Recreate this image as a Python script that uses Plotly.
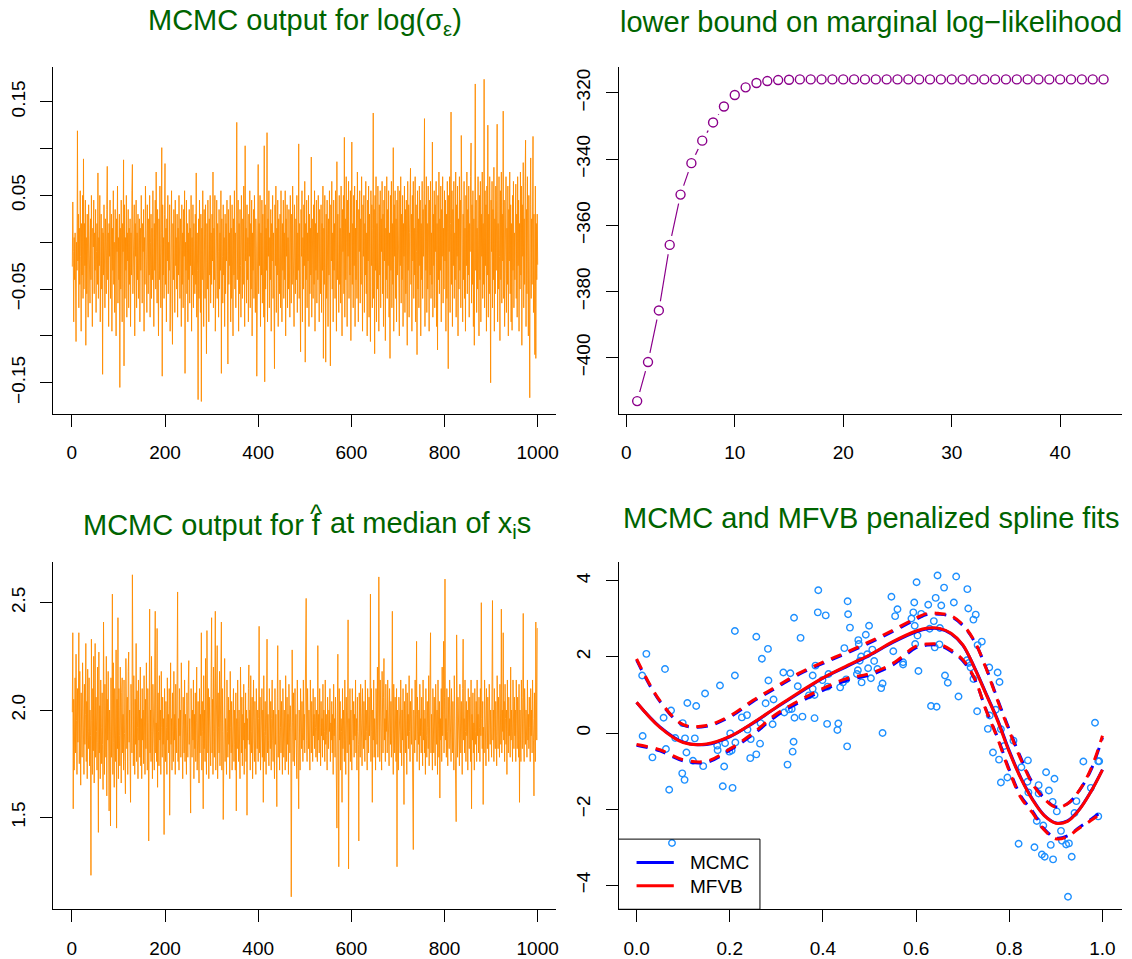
import plotly.graph_objects as go

# ---------------- data ----------------
# Panel 1: MCMC trace of log(sigma_eps), values in units of 0.001
sig_trace_milli = [
 -26, 43, -10, -85, 5, -40, 10, -60, -106, 0, -30, 119, -20, 30, -70, 15, -45, 55, -15, -95, 20, -35, 50, -60, 89,
 -50, 20, -25, 45, -110, 5, -55, 30, -10, -80, 40, -20, 10, -65, 25, -40, 50, -15, -90, 15, -5, 45, -55, 10, -30,
 35, -75, -10, 20, -45, 74, -60, 5, -25, 50, -85, 0, 30, -50, 15, -141, 10, -35, 40, -20, -70, 25, -5, -55, 35,
 81, -40, 10, -90, 20, -15, 45, -60, -5, 30, -95, 15, -30, 55, -45, 0, -75, 35, -20, -100, 25, -10, 60, -65, 5,
 -40, 30, -155, 15, -50, 45, -25, -85, 20, -10, 88, -132, 40, -60, 5, -30, 50, -80, 10, -20, 35, -70, 15, -45, 25,
 -90, 10, -35, 55, 83, -55, 0, -25, 40, -100, 20, -15, 45, -70, 10, -40, 30, -60, -5, 25, -85, 15, -30, 50, -20,
 -65, 20, -10, 35, -95, 5, -45, 60, -25, 10, -75, 40, -15, -55, 25, -35, 50, -80, 0, 30, -60, 15, -40, 55, -10,
 -90, 20, -30, 45, -50, 75, -20, -65, 35, -5, -100, 25, -40, 60, -15, -70, 10, 101, -143, 40, -35, 5, -60, 30, 84,
 -45, 15, -85, 25, -20, 50, -55, 0, -30, 40, -95, 10, -15, 55, -65, -109, 20, -40, 35, -10, -75, 45, -25, 5, -50,
 30, -80, 15, -35, 50, -20, -60, 25, -5, -90, 40, -45, 10, -70, 35, -15, 55, -140, 0, -30, 45, -55, 20, -85, 10,
 -40, 35, -65, 15, -25, 50, -95, 5, -35, 40, -70, 20, -10, -55, 30, -45, 74, -80, 10, -30, -168, 25, -60, 45, -15,
 -75, 30, -170, 15, -40, 55, -20, -90, 35, -5, -60, 40, -30, -119, 20, -50, 45, -10, -85, 25, -35, 50, -65, 10, -45,
 30, -20, 75, -70, 15, -40, 50, -95, 0, -25, 45, -60, 20, -10, -80, 35, -50, 10, -30, 55, -140, 25, -15, -65, 40,
 -35, 5, -90, 30, -55, 20, -20, 45, -75, -130, 35, -45, 10, -25, 50, -85, 15, -60, 40, -10, -100, 25, -35, 55, -50,
 10, -70, 30, 128, -40, -15, 45, -95, 20, -55, 35, -25, -80, 50, -10, -60, 25, -45, 60, -30, -90, 103, -20, 15, -65,
 40, -40, 5, -85, 30, -15, 55, -70, 20, -50, 45, -100, 10, -30, 35, -60, 50, -20, -75, 25, -5, -143, 15, -40, 83,
 -55, 20, -25, 50, -90, 10, -35, 45, -65, 30, -10, -80, 103, -149, 40, -50, 15, -30, 117, -85, 25, -15, 55, -70, 5,
 -40, 35, -95, 20, -20, 50, -60, 10, -45, -135, 40, -25, 60, -75, 15, -35, 45, -90, 25, -10, -55, 30, -70, 55, -20,
 -85, 20, -30, 45, -60, 10, -40, 55, -100, 25, -15, 40, -70, 5, -50, 35, -25, -80, 50, -10, -65, 30, -45, 60, -35,
 15, -90, 40, -20, -55, 25, -40, 50, -75, 10, -30, 105, -60, 20, -45, -117, 35, -15, 55, -85, 5, -50, 40, -25, 65,
 -128, 20, -40, 45, -70, 10, -20, 50, -90, 30, -55, 15, -35, 91, -80, 25, -10, -60, 40, -45, 55, -95, 20, -30, 45,
 -65, 10, -40, 50, -20, -85, 35, -5, -55, 40, -75, 20, -30, 60, -124, 15, -45, 50, -15, -128, 30, -60, 45, -25, -90,
 25, -35, 55, -70, -132, 40, -20, 65, -50, 10, -85, 45, -30, 20, -60, 55, -10, -95, 86, -40, 30, -20, -75, 50, -45,
 15, -65, 60, -30, -100, 35, -10, 50, -55, 112, -80, 25, -40, 70, -20, -90, 45, -15, 65, -60, 10, -35, 55, -105, 30,
 107, -45, 20, -70, 50, -25, 60, -90, 15, -40, 45, -60, 75, -20, -85, 35, -10, 55, -65, 25, -45, 70, -30, -95, 40,
 -15, 50, -75, 20, -35, 65, -55, 10, -100, 45, -20, 60, -80, 30, -45, -106, 55, -25, 40, -70, 15, 138, -60, 35, -119,
 50, -30, 70, -85, 20, -50, 60, -15, -95, 40, -35, 55, -70, 25, -10, 65, -55, 30, -90, 45, -20, 60, -105, 15, -40,
 70, -60, 35, -25, 55, -80, 10, -124, 50, -30, 65, -70, 20, -45, 101, -95, 40, -15, 55, -60, 25, -85, 45, -35, 60,
 -50, 15, -100, 55, -25, 70, -65, 30, -40, 50, -90, 20, -15, 60, -75, 35, -55, 45, -20, -110, 65, -30, 40, -80, 10,
 55, 79, -45, 30, -95, 50, -20, 65, -60, 15, -35, 70, -85, 40, -10, -120, 55, -50, 25, -70, 60, -25, 45, -100, 20,
 -40, 65, -60, 35, -15, 55, 132, -90, 40, -30, 70, -75, 20, -50, 60, -20, -95, 45, -35, 65, -60, 10, -45, 107, -80,
 30, -25, 55, -70, 40, -10, 65, -90, 20, -115, 50, -40, 75, -55, 25, -30, 60, -85, 35, -15, 70, -65, 15, -50, 55,
 -20, 45, -95, 30, -60, 65, -35, -135, 50, -10, 70, -75, 20, 139, -45, 55, -90, 35, -25, 65, -60, 10, -40, 75, -80,
 40, -15, 60, -100, 25, -50, 70, -30, 45, -70, 114, -20, 55, -85, 30, -40, 65, -60, 15, -95, 50, -25, 75, -55, 35,
 -35, 60, -80, 20, -10, 70, 106, -65, 40, -45, 55, -90, 25, -110, 65, 169, -30, 45, -75, 15, -50, 70, -20, -100, 50,
 -40, 65, -85, 30, -15, 75, -60, 20, -45, 174, -70, 55, -25, 40, -95, 60, -35, 125, -80, 30, -55, 70, -20, -150, 45,
 -10, 65, -70, 35, -40, 80, -95, 25, -55, 60, -30, 45, 126, -85, 20, -50, 70, -15, -105, 55, -40, 75, -65, 30, -20,
 140, -60, 45, -90, 25, -35, 70, -75, 15, -45, 60, -100, 35, -20, 75, -55, 40, -85, 20, -94, 50, -30, 65, -70, 10,
 -40, 55, 62, -60, 30, -80, 70, -25, 45, -95, 20, -50, 75, -35, 60, -110, 40, -15, 85, -70, 25, -45, 65, 109, -90,
 35, -55, 70, -20, -100, 50, -30, -166, 40, 90, -60, 25, -45, 80, 113, -75, 30, -50, -120, 60, -124, 20, -40, 30, -24,
]

# Panel 2: lower bound on marginal log-likelihood per iteration
lb_values = [-413.1, -401.3, -385.7, -365.9, -350.7, -341.2, -334.4, -328.9, -324.1, -320.6,
             -318.3, -317.0, -316.4, -316.1, -316.0, -315.9, -315.9, -315.9, -315.9, -315.9,
             -315.9, -315.9, -315.9, -315.9, -315.9, -315.9, -315.9, -315.9, -315.9, -315.9,
             -315.9, -315.9, -315.9, -315.9, -315.9, -315.9, -315.9, -315.9, -315.9, -315.9,
             -315.9, -315.9, -315.9, -315.9]

# Panel 3: MCMC trace of f-hat at median of x_i, values in units of 0.01
fhat_trace_centi = [
 199, 236, 154, 205, 172, 188, 215, 180, 226, 195, 170, 210, 185, 200, 236, 175, 218, 190, 165, 208, 192, 178, 222, 186, 205,
 170, 212, 184, 198, 231, 176, 204, 168, 219, 190, 182, 215, 174, 200, 188, 123, 233, 195, 170, 210, 181, 225, 166, 198, 231,
 178, 206, 190, 172, 220, 185, 143, 227, 180, 202, 168, 214, 192, 175, 208, 184, 163, 241, 188, 170, 212, 196, 178, 225, 160,
 205, 186, 218, 172, 153, 200, 190, 146, 215, 178, 196, 254, 170, 222, 185, 164, 210, 192, 176, 228, 145, 205, 182, 243, 168,
 210, 188, 174, 220, 195, 166, 208, 215, 180, 198, 172, 214, 189, 176, 161, 224, 192, 182, 206, 170, 218, 227, 185, 200, 176,
 157, 212, 194, 180, 263, 188, 174, 216, 196, 170, 205, 184, 231, 176, 209, 192, 168, 214, 186, 200, 178, 220, 174, 196, 168,
 210, 186, 200, 175, 216, 190, 170, 205, 182, 222, 188, 172, 210, 194, 139, 215, 247, 180, 200, 176, 225, 190, 168, 212, 184,
 198, 172, 220, 246, 180, 194, 176, 238, 164, 208, 190, 174, 216, 186, 200, 170, 218, 192, 178, 206, 184, 196, 142, 210, 188,
 176, 204, 192, 170, 215, 186, 198, 180, 210, 151, 200, 222, 184, 196, 172, 208, 190, 176, 218, 186, 198, 170, 212, 192, 180,
 205, 255, 176, 196, 172, 210, 188, 200, 178, 222, 186, 194, 168, 206, 192, 180, 214, 176, 198, 188, 170, 208, 190, 178, 212,
 223, 184, 196, 174, 152, 210, 190, 178, 200, 186, 214, 168, 198, 182, 208, 176, 194, 220, 172, 186, 204, 190, 166, 210, 180,
 198, 188, 236, 172, 204, 190, 154, 216, 182, 200, 176, 224, 186, 170, 237, 192, 180, 210, 168, 206, 188, 196, 174, 215, 243,
 180, 205, 170, 220, 190, 178, 212, 246, 172, 200, 186, 230, 168, 208, 192, 180, 218, 174, 196, 186, 241, 172, 210, 190, 149,
 200, 182, 224, 176, 196, 188, 170, 214, 190, 178, 206, 184, 200, 168, 218, 192, 180, 204, 172, 196, 186, 210, 176, 200, 184,
 172, 208, 153, 196, 182, 214, 190, 176, 200, 186, 168, 220, 192, 180, 206, 174, 198, 186, 212, 170, 194, 182, 208, 176, 200,
 151, 196, 186, 210, 221, 184, 200, 172, 216, 190, 180, 206, 168, 198, 214, 186, 176, 204, 192, 170, 210, 188, 182, 200, 176,
 196, 239, 180, 206, 172, 194, 186, 210, 178, 200, 157, 216, 190, 176, 204, 188, 170, 212, 233, 180, 198, 186, 174, 210, 192,
 182, 204, 172, 196, 214, 186, 176, 200, 190, 168, 210, 184, 198, 180, 155, 206, 230, 178, 200, 188, 172, 214, 192, 180, 204,
 186, 170, 210, 194, 178, 200, 188, 172, 216, 190, 176, 206, 184, 198, 170, 212, 188, 180, 202, 192, 113, 186, 228, 194, 176,
 208, 190, 174, 210, 186, 198, 180, 168, 214, 192, 178, 154, 200, 186, 172, 210, 194, 182, 204, 190, 176, 214, 186, 198, 180,
 206, 190, 252, 186, 176, 210, 194, 182, 200, 188, 172, 214, 190, 180, 204, 194, 176, 210, 188, 198, 182, 206, 192, 178, 200,
 190, 176, 230, 186, 198, 180, 210, 192, 174, 204, 188, 196, 178, 212, 186, 200, 190, 176, 214, 184, 198, 188, 172, 206, 194,
 182, 200, 190, 210, 176, 194, 186, 204, 180, 198, 170, 212, 188, 196, 178, 206, 190, 184, 145, 200, 226, 180, 127, 210, 186,
 204, 172, 196, 190, 157, 210, 182, 200, 188, 176, 214, 194, 170, 206, 188, 180, 200, 242, 126, 196, 184, 210, 176, 200, 190,
 172, 210, 194, 186, 204, 178, 198, 188, 214, 180, 196, 172, 206, 190, 184, 139, 208, 192, 178, 212, 188, 200, 174, 210, 190,
 182, 204, 196, 176, 214, 186, 200, 190, 172, 210, 194, 180, 206, 188, 198, 254, 176, 210, 190, 157, 200, 186, 214, 178, 196,
 188, 172, 210, 194, 184, 220, 178, 200, 262, 190, 176, 214, 186, 200, 172, 218, 192, 180, 206, 224, 186, 196, 176, 212, 190,
 200, 180, 214, 188, 196, 174, 210, 192, 184, 204, 178, 200, 246, 186, 170, 212, 194, 180, 206, 188, 176, 210, 127, 200, 190,
 172, 206, 188, 196, 180, 214, 190, 174, 200, 186, 210, 178, 156, 204, 190, 180, 212, 194, 170, 208, 188, 198, 182, 216, 190,
 176, 204, 196, 184, 210, 188, 172, 135, 200, 192, 180, 214, 186, 198, 232, 176, 206, 190, 184, 200, 172, 212, 188, 196, 180,
 206, 190, 174, 214, 186, 200, 180, 196, 170, 210, 188, 178, 204, 192, 182, 216, 174, 200, 190, 236, 180, 198, 186, 172, 210,
 192, 180, 206, 188, 174, 212, 196, 184, 200, 170, 214, 190, 178, 204, 159, 196, 186, 210, 176, 220, 188, 198, 232, 180, 206,
 261, 186, 196, 178, 210, 190, 174, 206, 192, 182, 214, 188, 200, 176, 210, 194, 180, 204, 186, 172, 216, 190, 198, 180, 148,
 235, 190, 178, 206, 186, 198, 174, 212, 190, 180, 204, 192, 170, 210, 233, 186, 196, 180, 214, 190, 176, 204, 188, 200, 172,
 210, 192, 182, 206, 188, 176, 214, 154, 198, 186, 208, 180, 194, 172, 210, 190, 184, 204, 176, 214, 188, 198, 180, 206, 192,
 176, 210, 188, 250, 196, 182, 204, 156, 192, 180, 214, 186, 200, 174, 210, 194, 182, 206, 188, 176, 212, 196, 184, 200, 190,
 178, 214, 251, 186, 200, 176, 210, 192, 182, 204, 188, 174, 216, 196, 182, 206, 190, 178, 212, 194, 184, 247, 180, 200, 190,
 236, 186, 204, 176, 212, 196, 184, 200, 170, 214, 190, 180, 206, 188, 196, 178, 220, 186, 200, 190, 176, 214, 192, 182, 206,
 188, 200, 176, 214, 190, 182, 206, 196, 178, 212, 157, 200, 188, 176, 214, 194, 182, 206, 245, 186, 176, 210, 196, 184, 200,
 190, 178, 214, 186, 198, 182, 206, 192, 176, 210, 188, 200, 180, 214, 196, 186, 160, 208, 190, 176, 241, 204, 186, 238, 238,
]

# Panel 4: data points
pts_x = [0.021, 0.012, 0.013, 0.034, 0.058, 0.061, 0.063, 0.070, 0.074, 0.076,
         0.083, 0.099, 0.098, 0.103, 0.104, 0.107, 0.109, 0.121, 0.125, 0.128,
         0.143, 0.147, 0.173, 0.174, 0.179, 0.185, 0.188, 0.190, 0.199, 0.201,
         0.204, 0.206, 0.211, 0.211, 0.212, 0.226, 0.237, 0.238, 0.244, 0.245,
         0.257, 0.257, 0.265, 0.266, 0.269, 0.277, 0.282, 0.283, 0.292, 0.294,
         0.315, 0.317, 0.324, 0.327, 0.330, 0.333, 0.335, 0.337, 0.338, 0.339,
         0.346, 0.352, 0.356, 0.370, 0.378, 0.378, 0.382, 0.382, 0.384, 0.389,
         0.390, 0.399, 0.406, 0.409, 0.410, 0.412, 0.431, 0.433, 0.437, 0.443,
         0.446, 0.450, 0.452, 0.453, 0.454, 0.458, 0.473, 0.475, 0.476, 0.477,
         0.479, 0.482, 0.483, 0.492, 0.495, 0.497, 0.499, 0.503, 0.506, 0.510,
         0.517, 0.525, 0.528, 0.528, 0.547, 0.551, 0.555, 0.560, 0.572, 0.572,
         0.590, 0.594, 0.596, 0.597, 0.598, 0.601, 0.603, 0.605, 0.611, 0.626,
         0.629, 0.632, 0.638, 0.640, 0.642, 0.644, 0.646, 0.650, 0.651, 0.654,
         0.660, 0.662, 0.668, 0.681, 0.686, 0.691, 0.709, 0.710, 0.712, 0.713,
         0.717, 0.723, 0.723, 0.728, 0.731, 0.732, 0.741, 0.754, 0.757, 0.758,
         0.765, 0.771, 0.775, 0.778, 0.779, 0.782, 0.782, 0.789, 0.796, 0.809,
         0.820, 0.826, 0.839, 0.840, 0.841, 0.854, 0.859, 0.863, 0.863, 0.870,
         0.873, 0.876, 0.879, 0.885, 0.889, 0.893, 0.894, 0.897, 0.902, 0.911,
         0.913, 0.922, 0.926, 0.928, 0.934, 0.940, 0.944, 0.959, 0.975, 0.984,
         0.991, 0.991, 0.993]
pts_y = [2.08, 1.51, -0.08, -0.64, 0.40, 1.68, -0.42, -1.49, 0.59, -2.89,
         -0.13, 0.26, -1.06, -1.23, -0.14, -0.51, 0.79, -0.73, -0.14, 0.71,
         -0.87, 1.04, -0.33, -0.45, 1.25, -1.40, -0.88, -0.27, -0.49, -0.01,
         -0.46, -1.44, 1.51, 2.68, -0.25, 0.41, 0.47, 0.09, -0.66, -0.16,
         2.53, -0.56, -0.28, 0.26, 1.95, 0.78, 2.21, 1.38, 0.23, 0.88,
         1.59, 0.54, -0.83, 0.62, 1.57, 0.63, -0.49, -0.23, 3.03, 0.40,
         1.23, 2.50, 0.43, 0.99, 1.51, 1.16, 1.00, 0.39, 1.77, 3.17,
         3.75, 1.39, 3.09, 0.24, 1.22, 1.55, 0.08, 0.25, 1.20, 1.33,
         2.23, 1.41, -0.35, 3.46, 3.12, 2.77, 1.55, 1.65, 2.44, 2.34,
         1.90, 2.01, 1.33, 2.58, 2.07, 1.70, 2.82, 1.44, 2.19, 1.89,
         1.68, 1.18, 1.30, 0.00, 3.58, 2.15, 3.07, 3.25, 1.86, 1.80,
         3.01, 3.17, 3.43, 2.82, 2.34, 3.96, 2.56, 1.63, 3.13, 3.37,
         2.74, 0.71, 2.94, 2.25, 3.55, 0.69, 4.14, 2.33, 2.76, 3.35,
         3.82, 1.51, 1.32, 3.43, 4.11, 0.96, 1.91, 3.78, 3.27, 1.84,
         1.72, 2.98, 1.42, 3.11, 0.57, 2.31, 2.40, 0.11, 1.72, 0.46,
         -0.51, 0.61, 1.59, -0.70, 1.34, -1.30, 0.10, -0.34, -1.17, -0.20,
         -2.91, -0.90, -1.28, -0.72, -1.56, -3.00, -2.31, -1.59, -1.37, -3.19,
         -2.43, -3.25, -1.03, -1.51, -2.94, -1.81, -3.32, -1.20, -2.06, -2.57,
         -2.83, -2.93, -4.30, -2.90, -3.25, -2.10, -1.79, -0.75, -1.44, 0.27,
         -0.74, -2.19, -0.74]

# Panel 4: fitted curves on a grid
fit_x = [0.0, 0.05, 0.1, 0.15, 0.2, 0.25, 0.3, 0.35, 0.4, 0.45, 0.5, 0.55, 0.6,
         0.625, 0.65, 0.675, 0.7, 0.725, 0.75, 0.775, 0.8, 0.825, 0.85, 0.875,
         0.9, 0.925, 0.95, 0.975, 1.0]
mfvb_mean = [0.81, 0.15, -0.25, -0.29, -0.09, 0.27, 0.68, 1.08, 1.45, 1.76, 2.05, 2.40, 2.68,
             2.76, 2.75, 2.62, 2.32, 1.72, 1.02, 0.32, -0.50, -1.20, -1.76, -2.17,
             -2.37, -2.32, -2.02, -1.55, -0.97]
mfvb_upper = [1.95, 0.85, 0.22, 0.20, 0.45, 0.86, 1.22, 1.58, 1.86, 2.12, 2.40, 2.70, 3.02,
              3.15, 3.14, 3.08, 2.85, 2.42, 1.70, 0.85, 0.05, -0.70, -1.34, -1.73,
              -1.95, -1.86, -1.51, -0.95, -0.07]
mfvb_lower = [-0.30, -0.44, -0.70, -0.74, -0.42, 0.00, 0.50, 0.86, 1.17, 1.43, 1.56, 1.83, 2.28,
              2.34, 2.33, 2.18, 1.93, 1.45, 0.60, -0.15, -1.00, -1.70, -2.10, -2.55,
              -2.78, -2.72, -2.50, -2.30, -2.08]
mcmc_mean = [0.80, 0.16, -0.24, -0.30, -0.10, 0.26, 0.67, 1.06, 1.44, 1.74, 2.04, 2.38, 2.66,
             2.74, 2.74, 2.61, 2.31, 1.73, 1.04, 0.35, -0.47, -1.18, -1.74, -2.16,
             -2.36, -2.31, -2.01, -1.54, -0.96]
mcmc_upper = [1.92, 0.83, 0.21, 0.18, 0.42, 0.83, 1.19, 1.55, 1.83, 2.09, 2.37, 2.67, 2.99,
              3.12, 3.12, 3.06, 2.83, 2.41, 1.72, 0.88, 0.09, -0.66, -1.31, -1.71,
              -1.94, -1.86, -1.52, -0.98, -0.12]
mcmc_lower = [-0.32, -0.47, -0.73, -0.77, -0.45, -0.04, 0.45, 0.81, 1.12, 1.38, 1.52, 1.79, 2.24,
              2.31, 2.30, 2.15, 1.90, 1.43, 0.62, -0.12, -0.96, -1.66, -2.06, -2.52,
              -2.76, -2.70, -2.48, -2.27, -2.05]

titles = ["MCMC output for log(σ<sub>ε</sub>)",
          "lower bound on marginal log−likelihood",
          "MCMC and MFVB penalized spline fits"]
legend_labels = ["MCMC", "MFVB"]

# ---------------- layout helpers ----------------
W, H = 1132, 959
def px(x):
    return x / W
def py(y):
    return 1 - y / H

FONT = "Liberation Sans, Arial, Helvetica, sans-serif"
TITLE_COL = "#006400"
ORANGE = "#FF8C00"
PURPLE = "#8B008B"
BLUE_PTS = "#1E90FF"

sig_vals = [v / 1000 for v in sig_trace_milli]
fhat_vals = [v / 100 for v in fhat_trace_centi]
iters1 = list(range(1, len(sig_vals) + 1))
iters3 = list(range(1, len(fhat_vals) + 1))
iters2 = list(range(1, len(lb_values) + 1))

fig = go.Figure()

# Panel 1
fig.add_trace(go.Scatter(x=iters1, y=sig_vals, mode="lines",
                         line=dict(color=ORANGE, width=0.9), xaxis="x", yaxis="y",
                         showlegend=False, hoverinfo="skip"))
# Panel 2 (type "b": line with gaps at points)
fig.add_trace(go.Scatter(x=iters2, y=lb_values, mode="lines",
                         line=dict(color=PURPLE, width=1.2), xaxis="x2", yaxis="y2",
                         showlegend=False, hoverinfo="skip"))
fig.add_trace(go.Scatter(x=iters2, y=lb_values, mode="markers",
                         marker=dict(color="white", size=19, line=dict(width=0)),
                         xaxis="x2", yaxis="y2", showlegend=False, hoverinfo="skip"))
fig.add_trace(go.Scatter(x=iters2, y=lb_values, mode="markers",
                         marker=dict(symbol="circle-open", color=PURPLE, size=9,
                                     line=dict(width=1.4, color=PURPLE)),
                         xaxis="x2", yaxis="y2", showlegend=False, hoverinfo="skip"))
# Panel 3
fig.add_trace(go.Scatter(x=iters3, y=fhat_vals, mode="lines",
                         line=dict(color=ORANGE, width=0.9), xaxis="x3", yaxis="y3",
                         showlegend=False, hoverinfo="skip"))
# Panel 4
fig.add_trace(go.Scatter(x=pts_x, y=pts_y, mode="markers",
                         marker=dict(symbol="circle-open", color=BLUE_PTS, size=6.5,
                                     line=dict(width=1.4, color=BLUE_PTS)),
                         xaxis="x4", yaxis="y4", showlegend=False, hoverinfo="skip"))
DASH = "11px,8px"
for ys, col, dash in [(mcmc_upper, "#0000FF", DASH), (mcmc_lower, "#0000FF", DASH),
                      (mcmc_mean, "#0000FF", "solid"),
                      (mfvb_upper, "#FF0000", DASH), (mfvb_lower, "#FF0000", DASH),
                      (mfvb_mean, "#FF0000", "solid")]:
    fig.add_trace(go.Scatter(x=fit_x, y=ys, mode="lines",
                             line=dict(color=col, width=3, dash=dash, shape="spline"),
                             xaxis="x4", yaxis="y4", showlegend=False, hoverinfo="skip"))

axis_common = dict(showline=True, linecolor="black", linewidth=1, mirror=False,
                   ticks="outside", ticklen=12, tickwidth=1, tickcolor="black",
                   showgrid=False, zeroline=False,
                   tickfont=dict(family=FONT, size=19, color="black"))
XSTAND = 10
YSTAND = 8

TOP = (66.7, 414.0)
BOT = (562.7, 910.2)
LEFT = (53.5, 557.3)
RIGHT = (619.6, 1124.2)

fig.update_layout(
    width=W, height=H, margin=dict(l=0, r=0, t=0, b=0),
    paper_bgcolor="white", plot_bgcolor="white",
    font=dict(family=FONT),
    showlegend=False,
    xaxis=dict(domain=[px(LEFT[0]), px(LEFT[1])], range=[-39.6, 1040], anchor="y",
               tickvals=[0, 200, 400, 600, 800, 1000], ticklabelstandoff=XSTAND, **axis_common),
    yaxis=dict(domain=[py(TOP[1]), py(TOP[0])], range=[-0.1829, 0.1875], anchor="x",
               tickvals=[-0.15, -0.05, 0.05, 0.15],
               ticktext=["−0.15", "−0.05", "0.05", "0.15"],
               minor=dict(tickvals=[-0.10, 0, 0.10], ticklen=12, tickwidth=1,
                          tickcolor="black", ticks="outside", showgrid=False),
               tickangle=-90, ticklabelstandoff=YSTAND, **axis_common),
    xaxis2=dict(domain=[px(RIGHT[0]), px(RIGHT[1])], range=[-0.72, 45.72], anchor="y2",
                tickvals=[0, 10, 20, 30, 40], ticklabelstandoff=XSTAND, **axis_common),
    yaxis2=dict(domain=[py(TOP[1]), py(TOP[0])], range=[-416.86, -312.04], anchor="x2",
                tickvals=[-400, -380, -360, -340, -320],
                ticktext=["−400", "−380", "−360", "−340", "−320"],
                tickangle=-90, ticklabelstandoff=YSTAND, **axis_common),
    xaxis3=dict(domain=[px(LEFT[0]), px(LEFT[1])], range=[-39.6, 1040], anchor="y3",
                tickvals=[0, 200, 400, 600, 800, 1000], ticklabelstandoff=XSTAND, **axis_common),
    yaxis3=dict(domain=[py(BOT[1]), py(BOT[0])], range=[1.072, 2.689], anchor="x3",
                tickvals=[1.5, 2.0, 2.5], ticktext=["1.5", "2.0", "2.5"],
                tickangle=-90, ticklabelstandoff=YSTAND, **axis_common),
    xaxis4=dict(domain=[px(RIGHT[0]), px(RIGHT[1])], range=[-0.0388, 1.0424], anchor="y4",
                tickvals=[0, 0.2, 0.4, 0.6, 0.8, 1.0],
                ticktext=["0.0", "0.2", "0.4", "0.6", "0.8", "1.0"],
                ticklabelstandoff=XSTAND, **axis_common),
    yaxis4=dict(domain=[py(BOT[1]), py(BOT[0])], range=[-4.63, 4.49], anchor="x4",
                tickvals=[-4, -2, 0, 2, 4], ticktext=["−4", "−2", "0", "2", "4"],
                tickangle=-90, ticklabelstandoff=YSTAND, **axis_common),
)

tfont = dict(family=FONT, size=29, color=TITLE_COL)
ann = [
    dict(text=titles[0], x=px(305.4), y=py(22.2), xanchor="center", yanchor="middle"),
    dict(text=titles[1], x=px(873.0), y=py(22.2), xanchor="center", yanchor="middle"),
    dict(text="MCMC output for f", x=px(321.5), y=py(525.2), xanchor="right", yanchor="middle"),
    dict(text="at median of x<sub>i</sub>s", x=px(331.0), y=py(525.2), xanchor="left", yanchor="middle"),
    dict(text=titles[2], x=px(873.0), y=py(518.8), xanchor="center", yanchor="middle"),
]
annotations = []
for a in ann:
    a.update(xref="paper", yref="paper", showarrow=False, font=tfont, borderpad=0, borderwidth=0)
    annotations.append(a)
annotations.append(dict(text="^", x=px(316.6), y=py(514.6), xref="paper", yref="paper",
                        xanchor="center", yanchor="middle", showarrow=False,
                        font=dict(family=FONT, size=26, color=TITLE_COL), borderpad=0, borderwidth=0))

# manual legend (bottom-left of panel 4)
leg_rows = [(863.3, "#0000FF", legend_labels[0]), (886.7, "#FF0000", legend_labels[1])]
shapes = [dict(type="rect", xref="paper", yref="paper", x0=px(619.6), x1=px(761.3),
               y0=py(910.2), y1=py(840.0), line=dict(color="black", width=1),
               fillcolor="rgba(0,0,0,0)")]
for yy, col, lab in leg_rows:
    shapes.append(dict(type="line", xref="paper", yref="paper", x0=px(637.7), x1=px(675.0),
                       y0=py(yy), y1=py(yy), line=dict(color=col, width=3)))
    annotations.append(dict(text=lab, x=px(691.7), y=py(yy + 0.3), xref="paper", yref="paper",
                            xanchor="left", yanchor="middle", showarrow=False,
                            font=dict(family=FONT, size=19, color="black"),
                            borderpad=0, borderwidth=0))

fig.update_layout(annotations=annotations, shapes=shapes)
fig.write_html("out.html", config={"displayModeBar": False},
               post_script="document.body.style.margin='0';document.body.style.overflow='hidden';")
